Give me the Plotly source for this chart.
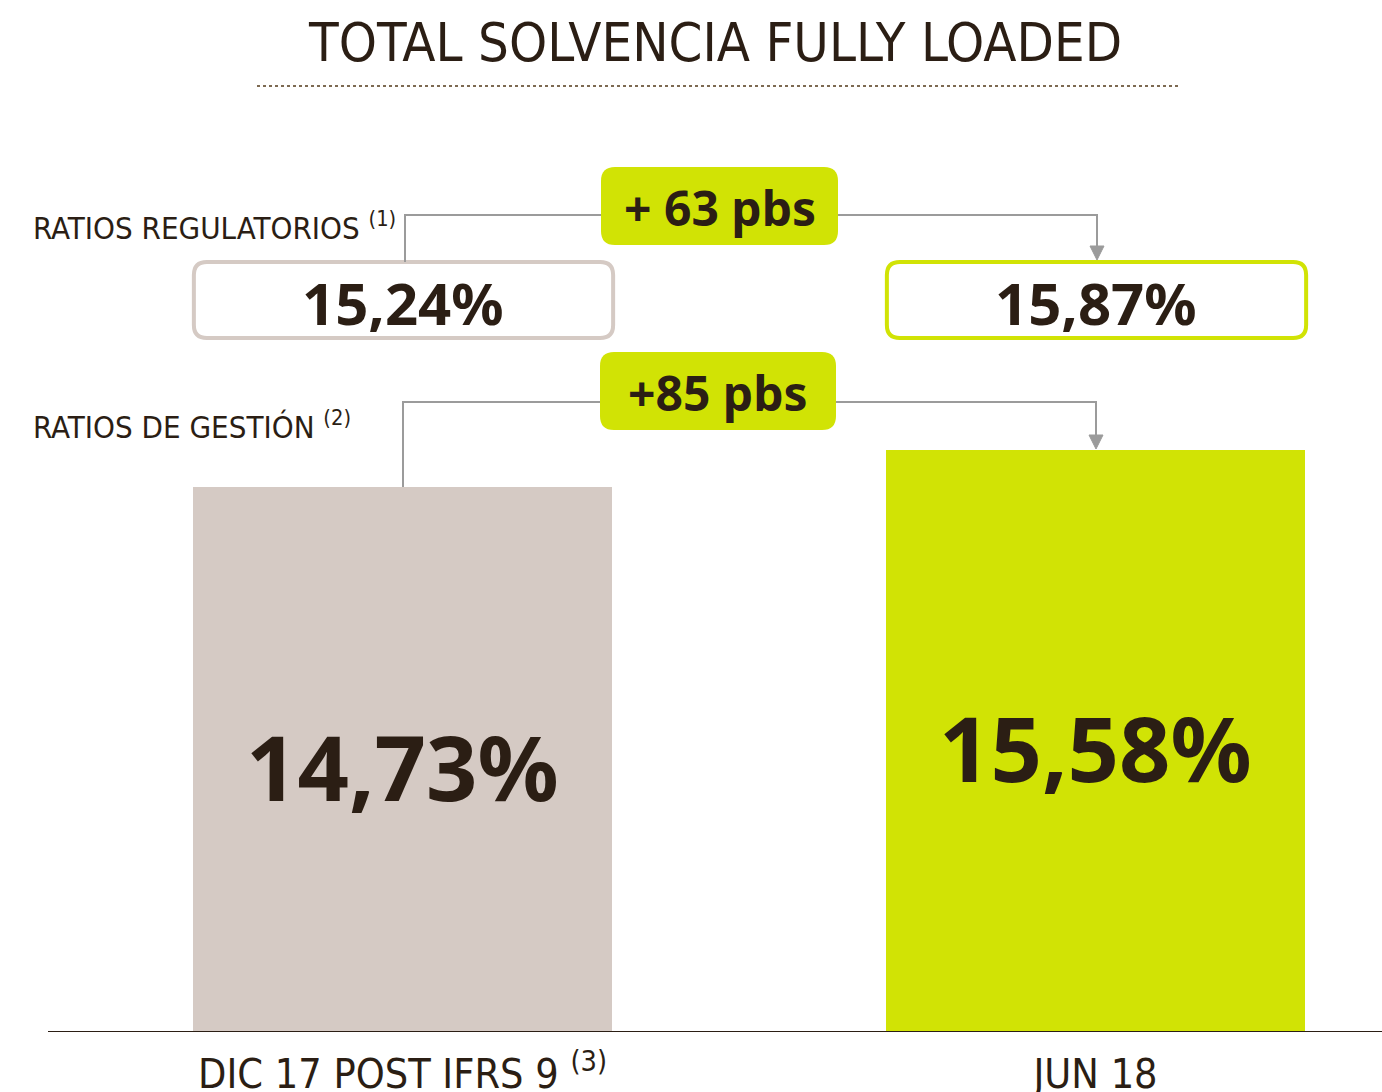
import plotly.graph_objects as go

# ---------------- data ----------------
categories = ["DIC 17 POST IFRS 9", "JUN 18"]
category_notes = ["(3)", ""]
ratios_gestion = [14.73, 15.58]        # bars (management ratios)
ratios_regulatorios = [15.24, 15.87]   # boxed regulatory ratios
delta_labels = ["+ 63 pbs", "+85 pbs"]  # regulatory, management
row_labels = ["RATIOS REGULATORIOS", "RATIOS DE GESTIÓN"]
row_notes = ["(1)", "(2)"]
title_text = "TOTAL SOLVENCIA FULLY LOADED"

# ---------------- styling ----------------
W, H = 1382, 1092
C_TEXT = "#2B1E14"
C_GREY = "#D5CAC4"
C_GREEN = "#D1E305"
C_LINE = "#9B9B9B"
C_DOT = "#7D6A52"
F_LIGHT = "Liberation Sans Narrow, DejaVu Sans Condensed, sans-serif"
F_BOLD = "Noto Sans, Open Sans, sans-serif"

BOTTOM_PX = 1032          # pixel row of the x axis
PX_PER_X = 693.0          # pixels per category step
X0_PX = 402.5             # pixel column of category 0
XMIN = -X0_PX / PX_PER_X
XMAX = XMIN + W / PX_PER_X
PX_PER_Y = 43.53
YMIN = 2.21
YMAX = YMIN + BOTTOM_PX / PX_PER_Y
BAR_W = 0.605


def X(px):
    return XMIN + px / PX_PER_X


def Y(py):
    return YMIN + (BOTTOM_PX - py) / PX_PER_Y


def fmt(v):
    return f"{v:.2f}".replace(".", ",") + "%"


def rrect(x0, y0, x1, y1, r):
    # pixel rounded rectangle -> data path
    pts = [
        f"M {X(x0 + r)},{Y(y0)}",
        f"L {X(x1 - r)},{Y(y0)}",
        f"Q {X(x1)},{Y(y0)} {X(x1)},{Y(y0 + r)}",
        f"L {X(x1)},{Y(y1 - r)}",
        f"Q {X(x1)},{Y(y1)} {X(x1 - r)},{Y(y1)}",
        f"L {X(x0 + r)},{Y(y1)}",
        f"Q {X(x0)},{Y(y1)} {X(x0)},{Y(y1 - r)}",
        f"L {X(x0)},{Y(y0 + r)}",
        f"Q {X(x0)},{Y(y0)} {X(x0 + r)},{Y(y0)}",
        "Z",
    ]
    return " ".join(pts)


xs = list(range(len(categories)))
ticktext = [c + (f" <sup>{n}</sup>" if n else "") for c, n in zip(categories, category_notes)]

fig = go.Figure()
fig.add_trace(go.Bar(
    x=xs, y=ratios_gestion, width=BAR_W,
    marker=dict(color=[C_GREY, C_GREEN], line=dict(width=0)),
    hoverinfo="skip",
))

shapes = []
annotations = []

# value labels centred in the visible part of each bar
for i, v in enumerate(ratios_gestion):
    annotations.append(dict(x=i, y=(YMIN + v) / 2, xref="x", yref="y", yshift=-6, text=fmt(v),
                            showarrow=False, font=dict(family=F_BOLD, size=90, color=C_TEXT, weight="bold"),
                            xanchor="center", yanchor="middle"))

# title + dotted rule
annotations.append(dict(x=X(715), y=Y(42), xref="x", yref="y", text=title_text,
                        showarrow=False, font=dict(family=F_LIGHT, size=54, color=C_TEXT),
                        xanchor="center", yanchor="middle"))
shapes.append(dict(type="line", xref="x", yref="y", x0=X(257), x1=X(1181), y0=Y(86), y1=Y(86),
                   line=dict(color=C_DOT, width=2, dash="dot")))

# axis line
shapes.append(dict(type="line", xref="x", yref="y", x0=X(48), x1=X(W), y0=YMIN, y1=YMIN,
                   line=dict(color=C_TEXT, width=2)))

half = BAR_W / 2
box_top, box_bot = 262, 338
reg_colors = [C_GREY, C_GREEN]
for i, v in enumerate(ratios_regulatorios):
    x0p = (i - half - XMIN) * PX_PER_X
    x1p = (i + half - XMIN) * PX_PER_X
    shapes.append(dict(type="path", xref="x", yref="y", path=rrect(x0p + 1, box_top, x1p + 1, box_bot, 13),
                       line=dict(color=reg_colors[i], width=4), fillcolor="white"))
    annotations.append(dict(x=i, y=Y((box_top + box_bot) / 2 + 2), xref="x", yref="y", text=fmt(v),
                            showarrow=False, font=dict(family=F_BOLD, size=58, color=C_TEXT, weight="bold"),
                            xanchor="center", yanchor="middle"))

# connectors + delta boxes
rows = [
    dict(y=215, start=box_top, tip=260, btop=167, bbot=245, bx0=601, bx1=838, label_y=226),
    dict(y=402, start=487, tip=449, btop=352, bbot=430, bx0=600, bx1=836, label_y=425),
]
left_x = [405, 403]
right_x = [1097, 1096]
for r, row in enumerate(rows):
    lx, rx = left_x[r], right_x[r]
    shapes.append(dict(type="path", xref="x", yref="y",
                       path=f"M {X(lx)},{Y(row['start'])} L {X(lx)},{Y(row['y'])} L {X(rx)},{Y(row['y'])} L {X(rx)},{Y(row['tip'] - 12)}",
                       line=dict(color=C_LINE, width=2)))
    shapes.append(dict(type="path", xref="x", yref="y",
                       path=f"M {X(rx - 7)},{Y(row['tip'] - 14)} L {X(rx + 7)},{Y(row['tip'] - 14)} L {X(rx)},{Y(row['tip'])} Z",
                       line=dict(color=C_LINE, width=1), fillcolor=C_LINE))
    shapes.append(dict(type="path", xref="x", yref="y",
                       path=rrect(row["bx0"], row["btop"], row["bx1"], row["bbot"], 14),
                       line=dict(width=0), fillcolor=C_GREEN))
    annotations.append(dict(x=X((row["bx0"] + row["bx1"]) / 2), y=Y((row["btop"] + row["bbot"]) / 2 + 1),
                            xref="x", yref="y", text=delta_labels[r], showarrow=False,
                            font=dict(family=F_BOLD, size=48, color=C_TEXT, weight="bold"),
                            xanchor="center", yanchor="middle"))
    annotations.append(dict(x=X(31), y=Y(row["label_y"]), xref="x", yref="y",
                            text=f"{row_labels[r]} <sup>{row_notes[r]}</sup>", showarrow=False,
                            font=dict(family=F_LIGHT, size=31, color=C_TEXT),
                            xanchor="left", yanchor="middle"))

fig.update_layout(
    width=W, height=H,
    margin=dict(l=0, r=0, t=0, b=H - BOTTOM_PX, autoexpand=False),
    paper_bgcolor="white", plot_bgcolor="white",
    showlegend=False,
    bargap=0,
    xaxis=dict(range=[XMIN, XMAX], tickvals=xs, ticktext=ticktext, showgrid=False, zeroline=False,
               showline=False, ticks="", ticklabelstandoff=14, automargin=False,
               tickfont=dict(family=F_LIGHT, size=41, color=C_TEXT), fixedrange=True),
    yaxis=dict(range=[YMIN, YMAX], visible=False, showgrid=False, zeroline=False, fixedrange=True,
               automargin=False),
    shapes=shapes,
    annotations=annotations,
)

fig.write_html("out.html", config={"displayModeBar": False},
               post_script="document.body.style.margin='0';document.body.style.overflow='hidden';")
